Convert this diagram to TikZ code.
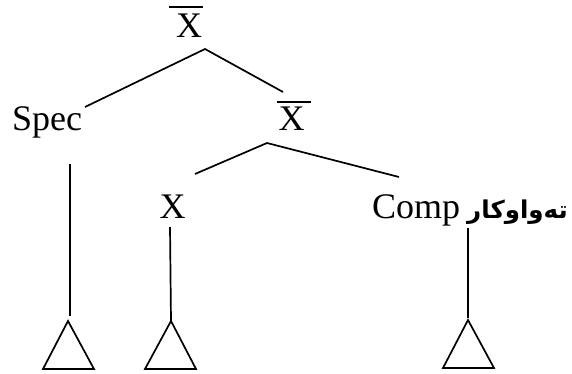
\documentclass[tikz,border=0pt]{standalone}
\usepackage{fontspec}
\setmainfont{Liberation Serif}
\newfontfamily\kufont[Script=Arabic]{DejaVu Sans}
\TeXXeTstate=1
\begin{document}
\begin{tikzpicture}[x=1pt,y=-1pt,
  lbl/.style={inner sep=0pt,anchor=base,font=\fontsize{36}{40}\selectfont},
  edge/.style={line width=1.7pt},
  bar/.style={line width=1.8pt},
  roof/.style={line width=1.7pt,line join=miter}]
\useasboundingbox (0,0) rectangle (572,374);
% labels
\node[lbl] (xbb) at (189,38) {X};
\node[lbl] (spec) at (47,131) {Spec};
\node[lbl] (xb) at (291.5,131) {X};
\node[lbl] (x) at (172.5,218) {X};
\node[lbl,anchor=base west] (comp) at (372,218) {Comp\hspace{7pt}{\kufont\bfseries\fontsize{24.5}{28}\selectfont\beginR تەواوکار\endR}};
% bars
\draw[bar] (169,7) -- (203,7);
\draw[bar] (277,102) -- (311,102);
% branch points
\coordinate (a1) at (205,49);
\coordinate (a1l) at (85,107);
\coordinate (a1r) at (283,92);
\coordinate (a2) at (267,143);
\coordinate (a2l) at (195,174);
\coordinate (a2r) at (399,177);
\draw[edge] (a1l) -- (a1) -- (a1r);
\draw[edge] (a2l) -- (a2) -- (a2r);
% stems
\coordinate (s1) at (70,164);
\coordinate (t1) at (68,321);
\coordinate (s2) at (170,227);
\coordinate (t2) at (171,321);
\coordinate (s3) at (468,228);
\coordinate (t3) at (468,320);
\draw[edge] (s1) -- (70,316);
\draw[edge] (s2) -- (t2);
\draw[edge] (s3) -- (468,318);
% triangles
\draw[roof] (t1) -- ++(-25,48) -- ++(51,0) -- cycle;
\draw[roof] (t2) -- ++(-26,48) -- ++(51,0) -- cycle;
\draw[roof] (t3) -- ++(-25,48) -- ++(51,0) -- cycle;
\end{tikzpicture}
\end{document}
